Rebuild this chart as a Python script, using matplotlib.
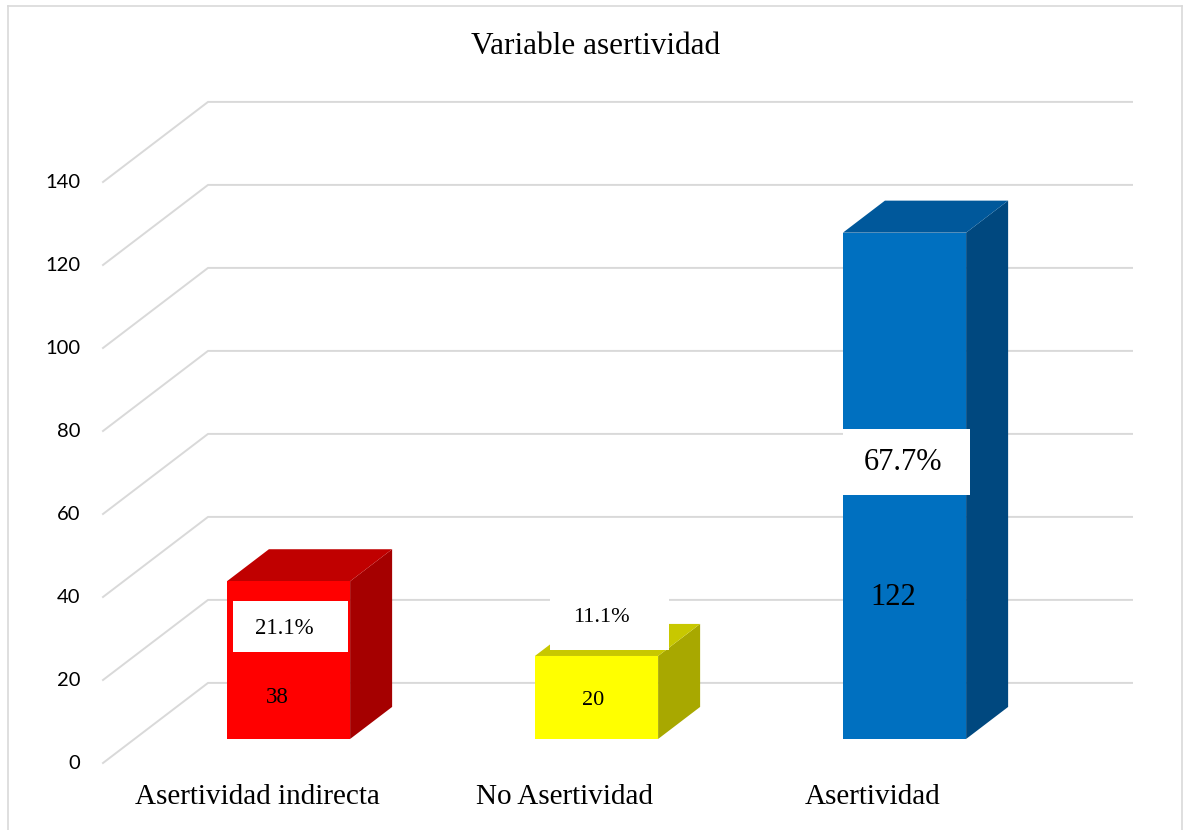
import numpy as np
import matplotlib.pyplot as plt
from matplotlib.patches import Polygon, Rectangle

# data
categorias = ['Asertividad indirecta', 'No Asertividad', 'Asertividad']
valores = [38, 20, 122]
porcentajes = ['21.1%', '11.1%', '67.7%']
ticks = [0, 20, 40, 60, 80, 100, 120, 140]

frente = ['#FF0000', '#FFFF00', '#0070C0']
arriba = ['#C00000', '#C8C800', '#00589B']
lado = ['#A50000', '#A8A800', '#00487F']

# fake 3d: depth offset of the back wall (category units, value units)
DX = 0.341
DY = 19.3
D0, D1 = 0.30, 0.70
W = 0.2
GRID = '#D9D9D9'


def proj(i, v, d):
    return i + d * DX, v + d * DY


def px(xp, yp):
    # figure pixels -> data coords (for labels only)
    return (xp - 257) / 308.0, (763 - yp) / 4.15


fig = plt.figure(figsize=(11.84, 8.30), dpi=100)
ax = fig.add_axes([0, 0, 1, 1])
ax.set_xlim(px(0, 0)[0], px(1184, 0)[0])
ax.set_ylim(px(0, 830)[1], px(0, 0)[1])
ax.axis('off')

# frame
for (x0, y0), (x1, y1) in [((8, 6), (1182, 6)), ((8, 6), (8, 835)), ((1182, 6), (1182, 835))]:
    a = px(x0, y0)
    b = px(x1, y1)
    ax.plot([a[0], b[0]], [a[1], b[1]], color=GRID, lw=1.2, zorder=1, clip_on=False)

# grid lines (floor + back wall)
for t in ticks:
    p0 = proj(-0.5, t, 0)
    p1 = proj(-0.5, t, 1)
    p2 = proj(2.5, t, 1)
    ax.plot([p0[0], p1[0], p2[0]], [p0[1], p1[1], p2[1]], color=GRID, lw=1.4, zorder=2,
            solid_joinstyle='miter')
    tx, ty = px(80, 0)
    ax.text(tx, t, str(t), ha='right', va='center', fontsize=14.5, family='Lato', color='black')

# bars
for i, v in enumerate(valores):
    cara = [proj(i - W, 0, D0), proj(i + W, 0, D0), proj(i + W, v, D0), proj(i - W, v, D0)]
    tapa = [proj(i - W, v, D0), proj(i + W, v, D0), proj(i + W, v, D1), proj(i - W, v, D1)]
    costado = [proj(i + W, 0, D0), proj(i + W, 0, D1), proj(i + W, v, D1), proj(i + W, v, D0)]
    ax.add_patch(Polygon(costado, closed=True, facecolor=lado[i], edgecolor='none', zorder=3))
    ax.add_patch(Polygon(tapa, closed=True, facecolor=arriba[i], edgecolor='none', zorder=3))
    ax.add_patch(Polygon(cara, closed=True, facecolor=frente[i], edgecolor='none', zorder=4))
    cx, cy = px(257, 797)
    ax.text(i, cy, categorias[i], ha='center', va='center', fontsize=21,
            family='Liberation Serif')

# percent boxes and value labels (layout in pixels)
cajas = [(233, 601, 348, 652), (550, 597, 669, 650), (843, 429, 970, 495)]
txt_pct = [(284, 628), (601, 617), (903, 462)]
txt_val = [(277, 697), (593, 700), (893, 597)]
tam = [16.5, 16, 22]
for i in range(3):
    x0, y0, x1, y1 = cajas[i]
    a = px(x0, y1)
    b = px(x1, y0)
    ax.add_patch(Rectangle(a, b[0] - a[0], b[1] - a[1], facecolor='white', edgecolor='none', zorder=5))
    p = px(*txt_pct[i])
    ax.text(p[0], p[1], porcentajes[i], ha='center', va='center', fontsize=tam[i],
            family='Liberation Serif', zorder=6)
    q = px(*txt_val[i])
    ax.text(q[0], q[1], str(valores[i]), ha='center', va='center', fontsize=tam[i],
            family='Liberation Serif', zorder=6)

fig.text(596 / 1184, 1 - 46 / 830, 'Variable asertividad', ha='center', va='center',
         fontsize=22.5, family='Liberation Serif')

fig.savefig('out.png', dpi=100)
